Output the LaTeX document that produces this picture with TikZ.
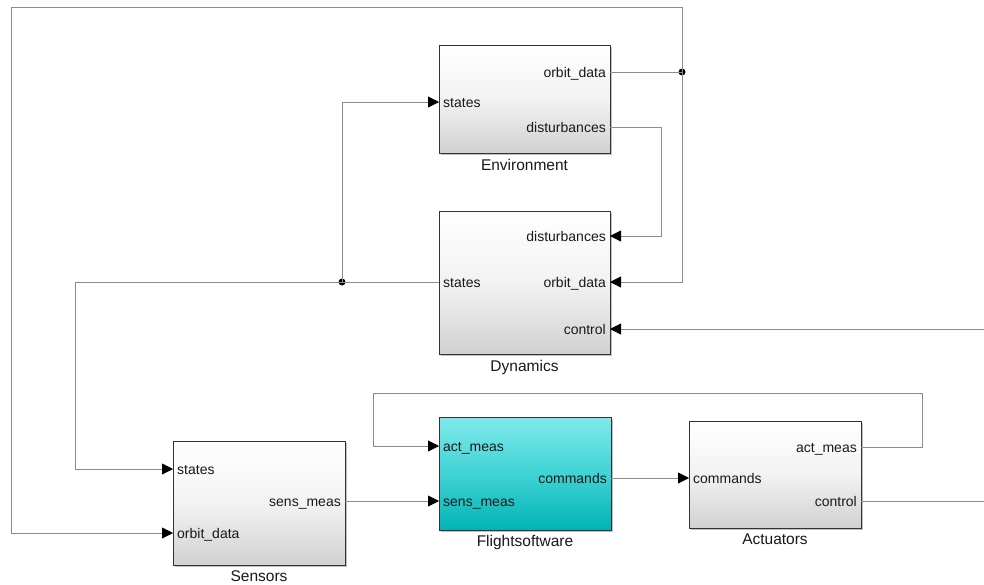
\documentclass[tikz,border=0pt]{standalone}
\usepackage{fontspec}
\setmainfont{Liberation Sans}
\usetikzlibrary{arrows.meta,shadows}
\definecolor{wirec}{HTML}{8C8C8C}
\definecolor{cyanT}{HTML}{80E9EB}
\definecolor{cyanM}{HTML}{40D3D5}
\definecolor{cyanB}{HTML}{00B3B5}
\begin{document}
\begin{tikzpicture}[x=1pt,y=-1pt,
  blk/.style={draw=black!80, line width=0.8pt, inner sep=0pt, outer sep=0pt,
    top color=white, bottom color=black!18, middle color=white!95!black,
    drop shadow={shadow xshift=1.5pt, shadow yshift=-1.5pt, fill=black, opacity=0.25}},
  fswblk/.style={blk, top color=cyanT, bottom color=cyanB, middle color=cyanM},
  plbl/.style={font=\fontsize{14}{16}\selectfont, text=black!90, inner sep=0pt},
  inlbl/.style={plbl, anchor=base west, xshift=4pt, yshift=-5.5pt},
  outlbl/.style={plbl, anchor=base east, xshift=-4pt, yshift=-5.5pt},
  blbl/.style={font=\fontsize{15.5}{18}\selectfont, text=black!90, inner sep=0pt, anchor=base},
  wire/.style={draw=wirec, line width=0.8pt},
  sig/.style={wire, -{Triangle[length=11pt,width=11pt,color=black]}},
  jdot/.style={circle, fill=black, inner sep=0pt, minimum size=7pt}
]
\useasboundingbox (0,0) rectangle (984,584);
\fill[white] (0,0) rectangle (984,584);

% blocks
\node[blk, minimum width=171pt, minimum height=108pt] (env) at (524.5,99) {};
\node[blk, minimum width=171pt, minimum height=143pt] (dyn) at (524.5,282.5) {};
\node[blk, minimum width=172pt, minimum height=124pt] (sen) at (259,503) {};
\node[fswblk, minimum width=172pt, minimum height=113pt] (fsw) at (525,473.5) {};
\node[blk, minimum width=172pt, minimum height=107pt] (act) at (775,474.5) {};

% block names
\node[blbl] (envname) at ([yshift=-17pt]env.south) {Environment};
\node[blbl] (dynname) at ([yshift=-17pt]dyn.south) {Dynamics};
\node[blbl] (senname) at ([yshift=-16pt]sen.south) {Sensors};
\node[blbl] (fswname) at ([yshift=-16pt]fsw.south) {Flightsoftware};
\node[blbl] (actname) at ([yshift=-16pt]act.south) {Actuators};

% ports
\coordinate (env-states) at (439,102);
\coordinate (env-orbit) at (610,72);
\coordinate (env-dist) at (610,127);
\coordinate (dyn-dist) at (610,236);
\coordinate (dyn-orbit) at (610,282);
\coordinate (dyn-ctrl) at (610,329);
\coordinate (dyn-states) at (439,282);
\coordinate (sen-states) at (173,469);
\coordinate (sen-orbit) at (173,533);
\coordinate (sen-meas) at (345,501);
\coordinate (fsw-act) at (439,446);
\coordinate (fsw-sens) at (439,501);
\coordinate (fsw-cmd) at (611,478);
\coordinate (act-cmd) at (689,478);
\coordinate (act-meas) at (861,447);
\coordinate (act-ctrl) at (861,501);
\coordinate (edge-ctrl-in) at (984,329);
\coordinate (edge-ctrl-out) at (984,501);
\coordinate (r-top) at (11,7);
\coordinate (r-left) at (75,282);
\coordinate (r-dist) at (661,127);
\coordinate (r-fb) at (922,447);
\coordinate (r-fbl) at (373,393);

% port labels
\node[inlbl] (l1) at (env-states) {states};
\node[outlbl] (l2) at (env-orbit) {orbit\_data};
\node[outlbl] (l3) at (env-dist) {disturbances};
\node[outlbl] (l4) at (dyn-dist) {disturbances};
\node[outlbl] (l5) at (dyn-orbit) {orbit\_data};
\node[outlbl] (l6) at (dyn-ctrl) {control};
\node[inlbl] (l7) at (dyn-states) {states};
\node[inlbl] (l8) at (sen-states) {states};
\node[inlbl] (l9) at (sen-orbit) {orbit\_data};
\node[outlbl] (l10) at (sen-meas) {sens\_meas};
\node[inlbl] (l11) at (fsw-act) {act\_meas};
\node[inlbl] (l12) at (fsw-sens) {sens\_meas};
\node[outlbl] (l13) at (fsw-cmd) {commands};
\node[inlbl] (l14) at (act-cmd) {commands};
\node[outlbl] (l15) at (act-meas) {act\_meas};
\node[outlbl] (l16) at (act-ctrl) {control};

% junctions
\node[jdot] (j1) at (682,72) {};
\node[jdot] (j2) at (342,282) {};

% wires
\draw[wire] (env-orbit) -- (j1.center);
\draw[sig] (j1.center) |- (dyn-orbit);
\draw[sig] (j1.center) |- (r-top) |- (sen-orbit);
\draw[sig] (env-dist) -- (r-dist) |- (dyn-dist);
\draw[sig] (dyn-states) -- (j2.center) |- (env-states);
\draw[sig] (j2.center) -- (r-left) |- (sen-states);
\draw[sig] (sen-meas) -- (fsw-sens);
\draw[sig] (fsw-cmd) -- (act-cmd);
\draw[sig] (act-meas) -- (r-fb) |- (r-fbl) |- (fsw-act);
\draw[wire] (act-ctrl) -- (edge-ctrl-out);
\draw[sig] (edge-ctrl-in) -- (dyn-ctrl);
\end{tikzpicture}
\end{document}
